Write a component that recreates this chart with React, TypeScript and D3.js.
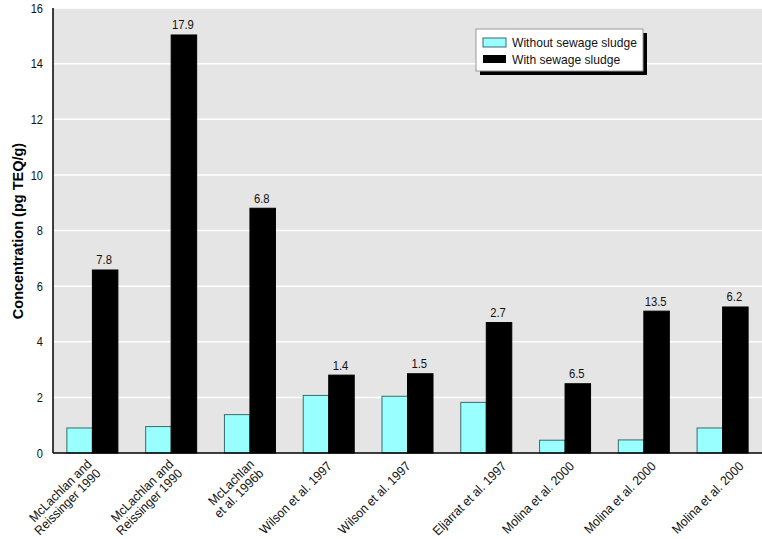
import React from "react";
import * as d3 from "d3";

const categories: string[][] = [
  ["McLachlan and", "Reissinger 1990"],
  ["McLachlan and", "Reissinger 1990"],
  ["McLachlan", "et al. 1996b"],
  ["Wilson et al. 1997"],
  ["Wilson et al. 1997"],
  ["Eljarrat et al. 1997"],
  ["Molina et al. 2000"],
  ["Molina et al. 2000"],
  ["Molina et al. 2000"],
];
const withoutSludge = [0.9, 0.95, 1.38, 2.07, 2.04, 1.82, 0.46, 0.47, 0.9];
const withSludge = [6.58, 15.03, 8.8, 2.8, 2.85, 4.69, 2.49, 5.1, 5.25];
const barLabels = ["7.8", "17.9", "6.8", "1.4", "1.5", "2.7", "6.5", "13.5", "6.2"];
const yTicks = [0, 2, 4, 6, 8, 10, 12, 14, 16];
const seriesNames = ["Without sewage sludge", "With sewage sludge"];

// layout nudges for the rotated category labels (px, horizontal)
const labelNudge = [0, 3, 5, 4, 4, 21, 10, 13, 22];

const W = 762;
const H = 539;
const FONT = "'Liberation Sans', Arial, sans-serif";

export default function App() {
  const left = 53, top = 8, right = 762, bottom = 453;
  const x = d3.scaleBand<number>().domain(d3.range(categories.length)).range([left, right]).padding(0);
  const y = d3.scaleLinear().domain([0, 16]).range([bottom, top]);
  const barW = 25.5;

  return (
    <svg width={W} height={H} style={{ position: "absolute", left: 0, top: 0, fontFamily: FONT }}>
      <rect x={0} y={0} width={W} height={H} fill="#fff" />
      <rect x={left} y={top} width={right - left} height={bottom - top} fill="#e5e5e5" />
      {yTicks.filter((t) => t > 0).map((t) => (
        <line key={t} x1={left} x2={right} y1={y(t)} y2={y(t)} stroke="#fff" strokeWidth={1.5} />
      ))}
      {yTicks.map((t) => (
        <text key={t} transform={`translate(43,${y(t)}) scale(0.85,1)`} dy="0.36em" textAnchor="end" fontSize={13} fill="#111">
          {t}
        </text>
      ))}
      <text
        transform={`translate(18,231) rotate(-90)`}
        textAnchor="middle"
        dy="0.35em"
        fontSize={14.5}
        fontWeight="bold"
      >
        Concentration (pg TEQ/g)
      </text>
      {categories.map((c, i) => {
        const cx = (x(i) as number) + x.bandwidth() / 2;
        const y0 = c.length > 1 ? 465 : 467;
        return (
          <g key={i}>
            <rect x={cx - barW} y={y(withoutSludge[i])} width={barW} height={y(0) - y(withoutSludge[i])} fill="#99ffff" stroke="#3a6b6b" strokeWidth={1} />
            <rect x={cx} y={y(withSludge[i])} width={barW} height={y(0) - y(withSludge[i])} fill="#000" stroke="#000" strokeWidth={1} />
            <text transform={`translate(${cx + barW / 2 - 1},${y(withSludge[i]) - 5.5}) scale(0.9,1)`} textAnchor="middle" fontSize={12.5} fill="#111">
              {barLabels[i]}
            </text>
            <g transform={`translate(${cx + labelNudge[i]},${y0}) rotate(-45)`}>
              {c.map((line, j) => (
                <text key={j} transform={`translate(0,${j * 13}) scale(0.93,1)`} textAnchor="end" fontSize={13} fill="#111">
                  {line}
                </text>
              ))}
            </g>
          </g>
        );
      })}
      <line x1={left} x2={left} y1={top} y2={bottom} stroke="#000" strokeWidth={1.5} />
      <line x1={left} x2={right} y1={bottom} y2={bottom} stroke="#000" strokeWidth={1.5} />
      <g>
        <rect x={480} y={33} width={167} height={42} fill="#000" />
        <rect x={476} y={29} width={167} height={42} fill="#fff" stroke="#999" strokeWidth={1} />
        <rect x={483} y={38} width={23} height={9} fill="#99ffff" stroke="#3a6b6b" strokeWidth={1} />
        <rect x={483} y={55} width={23} height={8} fill="#000" />
        <text transform="translate(512,46.7) scale(0.93,1)" fontSize={13} fill="#111">{seriesNames[0]}</text>
        <text transform="translate(512,64) scale(0.93,1)" fontSize={13} fill="#111">{seriesNames[1]}</text>
      </g>
    </svg>
  );
}
